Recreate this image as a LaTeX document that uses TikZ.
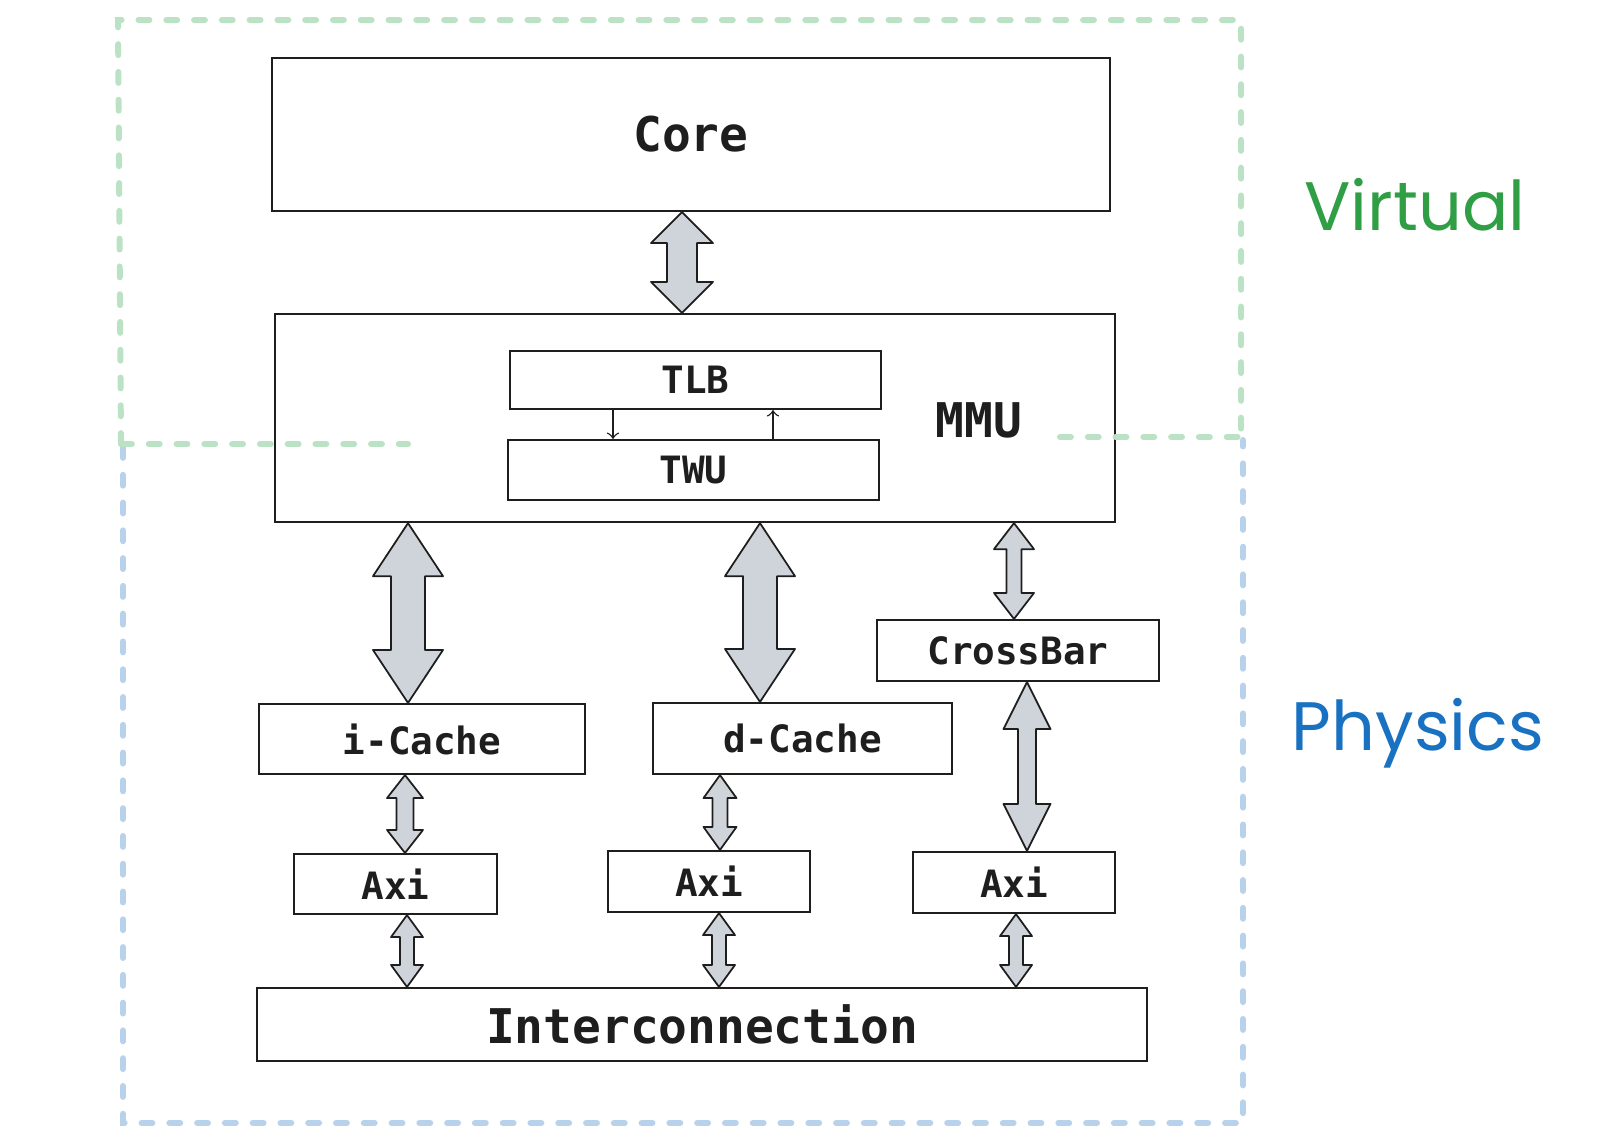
\documentclass[tikz,border=0pt]{standalone}
\usepackage{fontspec}
\setmonofont{DejaVu Sans Mono}
\newfontfamily\handfont{Poppins}
\usetikzlibrary{calc}
\definecolor{inkc}{HTML}{1E1E1E}
\definecolor{arrowfill}{HTML}{CED4DA}
\definecolor{virtline}{RGB}{187,226,196}
\definecolor{physline}{RGB}{185,210,236}
\definecolor{virtc}{HTML}{2F9E44}
\definecolor{physc}{HTML}{1971C2}
\tikzset{
  smallfont/.style={font=\ttfamily\bfseries\fontsize{10.7}{13}\selectfont},
  bigfont/.style={font=\ttfamily\bfseries\fontsize{13.6}{16}\selectfont},
  block/.style={draw=inkc, line width=0.6pt, inner sep=0pt, text=inkc, smallfont},
  bigblock/.style={block, bigfont},
  bigarrow/.style={draw=inkc, fill=arrowfill, line width=0.5pt, line join=round},
  region/.style={line width=1.7pt, line cap=round, dash pattern=on 3.1pt off 4.8pt},
  handlabel/.style={font=\handfont\fontsize{19.5}{22}\selectfont, anchor=base}
}
% #1 top tip, #2 bottom tip, #3 head half width, #4 shaft half width, #5 head length
\newcommand{\dblarrow}[5]{%
  \draw[bigarrow] (#1) -- ++(#3,#5) -- ++({#4-#3},0) -- ($(#2)+(#4,-#5)$) -- ++({#3-#4},0)
    -- (#2) -- ++(-#3,-#5) -- ++({#3-#4},0) -- ($(#1)+(-#4,#5)$) -- ++({#4-#3},0) -- cycle;}

\begin{document}
\begin{tikzpicture}[x=0.01cm, y=-0.01cm]
\useasboundingbox (0,0) rectangle (1608,1144);
% regions
\draw[region, virtline] (121,444) -- (118,20) -- (1241,20) -- (1241,437);
\draw[region, physline] (123,447) -- (123,1123) -- (1243,1123) -- (1243,440);
\node[handlabel, text=virtc] (virtual) at (1415,230) {Virtual};
\node[handlabel, text=physc] (physics) at (1418,750) {Physics};

% blocks
\node[bigblock, minimum width=8.38cm, minimum height=1.53cm] (core) at (691,134.5) {Core};
\node[block, minimum width=8.40cm, minimum height=2.08cm] (mmu) at (695,418) {};
\node[bigfont, text=inkc] (mmulabel) at (979,420) {MMU};
\node[block, minimum width=3.71cm, minimum height=0.58cm] (tlb) at (695.5,380) {TLB};
\node[block, minimum width=3.71cm, minimum height=0.60cm] (twu) at (693.5,470) {TWU};
\node[block, minimum width=2.82cm, minimum height=0.61cm] (xbar) at (1018,650.5) {CrossBar};
\node[block, minimum width=3.26cm, minimum height=0.70cm] (icache) at (422,739) {i-Cache};
\node[block, minimum width=2.99cm, minimum height=0.71cm] (dcache) at (802.5,738.5) {d-Cache};
\node[block, minimum width=2.03cm, minimum height=0.60cm] (axia) at (395.5,884) {Axi};
\node[block, minimum width=2.02cm, minimum height=0.61cm] (axib) at (709,881.5) {Axi};
\node[block, minimum width=2.02cm, minimum height=0.61cm] (axic) at (1014,882.5) {Axi};
\node[bigblock, minimum width=8.90cm, minimum height=0.73cm] (inter) at (702,1024.5) {Interconnection};

% green border runs over the MMU
\draw[region, virtline] (121,444) -- (408,444);
\draw[region, virtline] (1060,437) -- (1241,437);

% TLB <-> TWU
\draw[->, inkc, line width=0.4pt] (tlb.south -| 613,0) -- (twu.north -| 613,0);
\draw[->, inkc, line width=0.4pt] (twu.north -| 773,0) -- (tlb.south -| 773,0);

% fat arrows
\dblarrow{core.south -| 682,0}{mmu.north -| 682,0}{31}{15}{31}
\dblarrow{mmu.south -| 408,0}{icache.north -| 408,0}{35}{17}{53}
\dblarrow{mmu.south -| 760,0}{dcache.north -| 760,0}{35}{17}{53}
\dblarrow{mmu.south -| 1014,0}{xbar.north -| 1014,0}{20}{7.5}{26}
\dblarrow{xbar.south -| 1027,0}{axic.north -| 1027,0}{23.5}{9}{47}
\dblarrow{icache.south -| 405,0}{axia.north -| 405,0}{18}{8.5}{23}
\dblarrow{dcache.south -| 720,0}{axib.north -| 720,0}{16.5}{7.5}{23}
\dblarrow{axia.south -| 407,0}{inter.north -| 407,0}{16}{7}{22}
\dblarrow{axib.south -| 719,0}{inter.north -| 719,0}{16}{7}{22}
\dblarrow{axic.south -| 1016,0}{inter.north -| 1016,0}{16}{7}{22}
\end{tikzpicture}
\end{document}
